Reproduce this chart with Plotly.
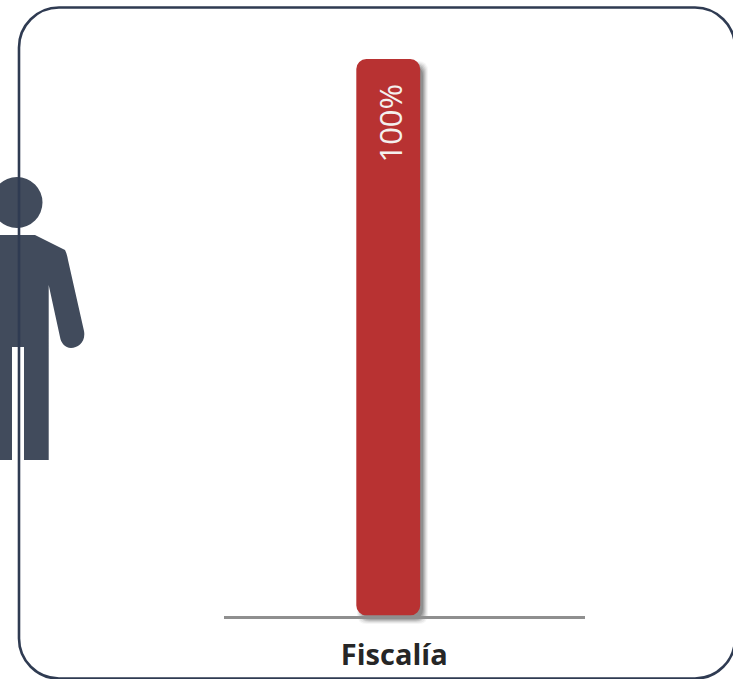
import plotly.graph_objects as go

categories = ["Fiscalía"]
values = [100]
bases = [0]
value_labels = ["100%"]

W, H = 733, 679
INK = "#2f3b52"
PERSON = "#414b5c"
RED = "#b83232"


def px(x):
    return x / W


def py(y):
    return 1 - y / H


def path(cmds):
    out = []
    for c in cmds:
        if isinstance(c, str):
            out.append(c)
        else:
            out.append(f"{px(c[0]):.5f},{py(c[1]):.5f}")
    return " ".join(out)


def rounded(x0, y0, x1, y1, r):
    return path([
        "M", (x0 + r, y0), "L", (x1 - r, y0), "Q", (x1, y0), (x1, y0 + r),
        "L", (x1, y1 - r), "Q", (x1, y1), (x1 - r, y1),
        "L", (x0 + r, y1), "Q", (x0, y1), (x0, y1 - r),
        "L", (x0, y0 + r), "Q", (x0, y0), (x0 + r, y0), "Z",
    ])


def panel_path(x0, y0, x1, y1, r):
    k = r * 0.45
    return path([
        "M", (x0 + r, y0), "L", (x1 - r, y0),
        "C", (x1 - k, y0), (x1, y0 + k), (x1, y0 + r),
        "L", (x1, y1 - r), "C", (x1, y1 - k), (x1 - k, y1), (x1 - r, y1),
        "L", (x0 + r, y1), "C", (x0 + k, y1), (x0, y1 - k), (x0, y1 - r),
        "L", (x0, y0 + r), "C", (x0, y0 + k), (x0 + k, y0), (x0 + r, y0), "Z",
    ])


shapes = []

# soft bar shadow
for grow, op in [(5, 0.05), (4, 0.08), (3, 0.11), (2, 0.14), (1, 0.17), (0, 0.22)]:
    shapes.append(dict(
        type="path", xref="paper", yref="paper", layer="below",
        path=rounded(362 - grow, 66 - grow, 423 + grow, 619 + grow, 10),
        fillcolor=f"rgba(60,60,60,{op})", line=dict(width=0),
    ))

# person pictogram
shapes.append(dict(
    type="circle", xref="paper", yref="paper", layer="below",
    x0=px(-8.5), x1=px(42.5), y0=py(228), y1=py(177),
    fillcolor=PERSON, line=dict(width=0),
))
shapes.append(dict(
    type="path", xref="paper", yref="paper", layer="below",
    path=path([
        "M", (-5, 235), "L", (35, 235), "L", (65, 250),
        "Q", (67, 254), (68, 260), "L", (84, 331),
        "C", (86, 342), (78, 348), (71, 348),
        "C", (65, 348), (61, 343), (60, 337),
        "L", (48.7, 285), "L", (48.7, 460), "L", (24, 460), "L", (24, 347),
        "L", (12, 347), "L", (12, 460), "L", (-5, 460), "Z",
    ]),
    fillcolor=PERSON, line=dict(width=0),
))
# rounded panel outline
shapes.append(dict(
    type="path", xref="paper", yref="paper", layer="below",
    path=panel_path(19, 7.5, 735, 678.5, 40),
    fillcolor="rgba(0,0,0,0)", line=dict(color=INK, width=2.6),
))

fig = go.Figure()
# an explicit base makes plotly round both ends of the bar
fig.add_trace(go.Bar(
    x=categories, y=values, base=bases,
    marker=dict(color=RED, cornerradius=10, line=dict(width=0)),
    width=0.177, hoverinfo="skip",
))

fig.add_annotation(
    x=categories[0], y=values[0] - 4.1, xref="x", yref="y",
    text=value_labels[0], textangle=-90, showarrow=False,
    yanchor="top", xanchor="center", xshift=2,
    font=dict(family="Open Sans", size=31, color="#f4f0ee"),
)

fig.update_layout(
    width=W, height=H,
    margin=dict(l=0, r=0, t=0, b=0),
    paper_bgcolor="white", plot_bgcolor="rgba(0,0,0,0)",
    showlegend=False,
    shapes=shapes,
    xaxis=dict(
        domain=[224 / W, 585 / W],
        range=[-0.455, 0.545],
        showgrid=False, zeroline=False,
        showline=True, linecolor="#8f8f8f", linewidth=2.5,
        ticks="outside", ticklen=12, tickcolor="rgba(0,0,0,0)",
        ticklabelshift=6,
        tickfont=dict(family="Open Sans", size=29, color="#262626", weight="bold"),
    ),
    yaxis=dict(
        domain=[(H - 615.5) / H, (H - 59) / H],
        range=[0, 100],
        visible=False,
    ),
)

fig.write_html(
    "out.html",
    config={"displayModeBar": False},
    post_script="document.body.style.margin='0';",
)
